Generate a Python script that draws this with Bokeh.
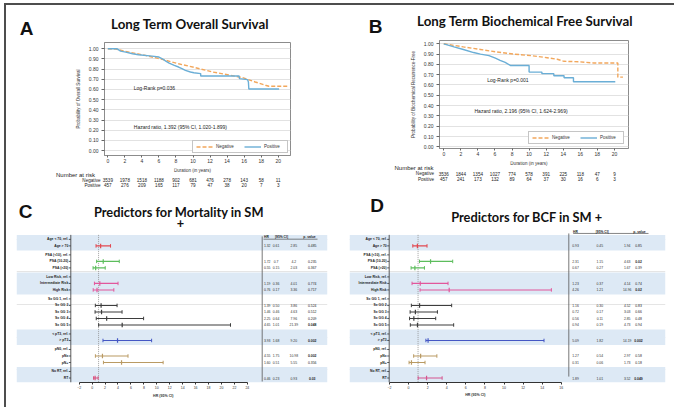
import numpy as np
from bokeh.plotting import figure
from bokeh.models import (Range1d, Legend, LegendItem, FixedTicker, NumeralTickFormatter)
from bokeh.layouts import row, column
from bokeh.embed import file_html
from bokeh.resources import INLINE
from bokeh.core.properties import value

# ------------------------------------------------------------------ data
risk_times = [0, 2, 4, 6, 8, 10, 12, 14, 16, 18, 20]
surv_ticks = [0.0, 0.1, 0.2, 0.3, 0.4, 0.5, 0.6, 0.7, 0.8, 0.9, 1.0]

# Panel A - overall survival
a_neg_t = [0, 0.9, 2.5, 4.4, 6.4, 8.3, 10.3, 12.3, 14.2, 15.8, 17.3, 18.5, 18.9, 21.1]
a_neg_s = [1.0, 0.997, 0.967, 0.935, 0.896, 0.853, 0.814, 0.772, 0.743, 0.717, 0.674, 0.642, 0.632, 0.632]
a_pos_t = [0, 1.1, 1.5, 2.1, 2.9, 3.6, 5.2, 6.0, 6.4, 6.8, 7.2, 7.8, 8.3, 8.7, 9.1, 9.7,
           10.1, 10.9, 10.9, 15.4, 15.45, 16.4, 16.5, 16.55, 20.1]
a_pos_s = [1.0, 1.0, 0.977, 0.967, 0.951, 0.941, 0.928, 0.919, 0.902, 0.879, 0.860, 0.837,
           0.821, 0.805, 0.788, 0.772, 0.765, 0.756, 0.733, 0.733, 0.707, 0.697, 0.674, 0.605, 0.605]
a_risk_neg = [3539, 1978, 1518, 1188, 902, 681, 476, 278, 143, 58, 11]
a_risk_pos = [457, 276, 209, 165, 117, 79, 47, 38, 20, 7, 3]

# Panel B - biochemical free survival
b_neg_t = [0, 2.3, 4.3, 6.25, 8.2, 10.2, 12.1, 13.3, 14.1, 16.0, 17.6, 20.4, 20.4, 21.0]
b_neg_s = [1.0, 0.97, 0.945, 0.92, 0.90, 0.885, 0.865, 0.85, 0.83, 0.825, 0.813, 0.813, 0.676, 0.676]
b_pos_t = [0, 1.2, 2.3, 3.5, 4.3, 5.3, 6.05, 6.6, 7.2, 7.8, 10.0, 10.0, 11.5, 11.5, 12.9, 12.9,
           14.1, 14.1, 15.2, 15.2, 20.1]
b_pos_s = [1.0, 0.97, 0.945, 0.915, 0.90, 0.885, 0.86, 0.84, 0.82, 0.79, 0.79, 0.725, 0.725, 0.71,
           0.71, 0.69, 0.69, 0.67, 0.67, 0.632, 0.632]
b_risk_neg = [3536, 1844, 1354, 1027, 774, 578, 391, 225, 118, 47, 9]
b_risk_pos = [457, 241, 173, 132, 89, 64, 37, 30, 16, 6, 3]

# Forest plots (C, D)
row_labels = ["Age < 70, ref.", "Age > 70",
              "PSA (<10), ref.", "PSA (10-20)", "PSA (>20)",
              "Low Risk, ref.", "Intermediate Risk", "High Risk",
              "Sx GG 1, ref.", "Sx GG 2", "Sx GG 3", "Sx GG 4", "Sx GG 5",
              "< pT3, ref.", "> pT3",
              "pN0, ref.", "pNx", "pN+",
              "No RT, ref.", "RT"]
group_sizes = [2, 3, 3, 5, 2, 3, 2]
est_labels = ["Age > 70", "PSA (10-20)", "PSA (>20)", "Intermediate Risk", "High Risk",
              "Sx GG 2", "Sx GG 3", "Sx GG 4", "Sx GG 5", "> pT3", "pNx", "pN+", "RT"]
est_groups = [0, 1, 1, 2, 2, 3, 3, 3, 3, 4, 5, 5, 6]

c_hr = [1.32, 1.72, 0.55, 1.19, 0.76, 1.39, 1.46, 2.25, 4.65, 3.93, 1.60, 4.55, 0.46]
c_lo = [0.61, 0.70, 0.15, 0.36, 0.17, 0.50, 0.46, 0.64, 1.01, 1.68, 0.51, 1.75, 0.23]
c_hi = [2.85, 4.20, 2.03, 4.01, 3.36, 3.86, 4.63, 7.96, 21.39, 9.20, 5.55, 10.98, 0.93]
c_tab_hr = ["1.32", "1.72", "0.55", "1.19", "0.76", "1.39", "1.46", "2.25", "4.65", "3.93", "4.55", "1.60", "0.46"]
c_tab_lo = ["0.61", "0.7", "0.15", "0.36", "0.17", "0.50", "0.46", "0.64", "1.01", "1.68", "1.75", "0.51", "0.23"]
c_tab_hi = ["2.85", "4.2", "2.03", "4.01", "3.36", "3.86", "4.63", "7.96", "21.39", "9.20", "10.98", "5.55", "0.93"]
c_tab_p = ["0.485", "0.235", "0.367", "0.774", "0.717", "0.524", "0.512", "0.209", "0.048", "0.002", "0.002", "0.356", "0.03"]

d_hr = [0.93, 2.31, 0.67, 1.23, 4.26, 1.16, 0.72, 0.56, 0.94, 2.05, 1.27, 0.31, 1.89]
d_lo = [0.45, 1.15, 0.27, 0.37, 1.21, 0.30, 0.17, 0.11, 0.19, 1.82, 0.54, 0.06, 1.01]
d_hi = [1.94, 4.63, 1.67, 4.14, 14.96, 4.52, 3.03, 2.85, 4.73, 14.19, 2.97, 1.73, 3.52]
d_tab_hr = ["0.93", "2.31", "0.67", "1.23", "4.26", "1.16", "0.72", "0.56", "0.94", "5.09", "1.27", "0.31", "1.89"]
d_tab_lo = ["0.45", "1.15", "0.27", "0.37", "1.21", "0.30", "0.17", "0.11", "0.19", "1.82", "0.54", "0.06", "1.01"]
d_tab_hi = ["1.94", "4.63", "1.67", "4.14", "14.96", "4.52", "3.03", "2.85", "4.73", "14.19", "2.97", "1.73", "3.52"]
d_tab_p = ["0.85", "0.02", "0.39", "0.74", "0.02", "0.83", "0.66", "0.48", "0.94", "0.002", "0.58", "0.18", "0.049"]

c_group_colors = ["#e2474f", "#5cbd5c", "#e2579c", "#3d3d3d", "#4457c4", "#b99a63", "#d94f7c"]
d_group_colors = ["#e2474f", "#5cbd5c", "#e2579c", "#3d3d3d", "#4457c4", "#b99a63", "#d6558f"]

# ------------------------------------------------------------------ style
FONT = "Liberation Sans"
TFONT = "Lato"
NEG_COL = "#f2a75c"
POS_COL = "#6aaed6"
BAND = "#dde9f5"


def strip(x0, y0, w, h, xr=None):
    """A figure whose frame is the whole canvas; y in page pixels (down)."""
    p = figure(width=w, height=h, x_range=Range1d(*(xr if xr else (x0, x0 + w))),
               y_range=Range1d(y0 + h, y0), output_backend="svg", toolbar_location=None,
               x_axis_location=None, y_axis_location=None, frame_align=False,
               min_border_left=0, min_border_right=0, min_border_top=0, min_border_bottom=0)
    p.outline_line_color = None
    p.background_fill_color = "white"
    p.border_fill_color = "white"
    p.grid.visible = False
    return p


def put(p, items, size, bold=False, font=FONT, align="left", color="#222222"):
    p.text(x=[i[1] for i in items], y=[i[2] for i in items], text=[i[0] for i in items],
           text_font=value(font), text_font_size=f"{size}px",
           text_font_style="bold" if bold else "normal", text_color=color,
           text_align=align, text_baseline="middle")


def km_panel(ox, w, ys, frame, xr, yr, neg, pos, risk_neg, risk_pos, ylabel,
             letter_xy, letter, title_xy, title, notes, risk_geo, legend_margin):
    y_hdr, y_km, y_risk, y_end = ys
    fl, fr, ft, fb = frame
    hdr = strip(ox, y_hdr, w, y_km - y_hdr)
    put(hdr, [(letter, *letter_xy)], 19, bold=True, align="center", color="#111111")
    put(hdr, [(title, *title_xy)], 13.3, bold=True, font=TFONT, align="center", color="#111111")

    p = figure(width=w, height=y_risk - y_km, x_range=Range1d(*xr), y_range=Range1d(*yr),
               output_backend="svg", toolbar_location=None, frame_align=False,
               min_border_left=fl - ox, min_border_right=ox + w - fr,
               min_border_top=ft - y_km, min_border_bottom=y_risk - fb)
    p.background_fill_color = "white"
    p.border_fill_color = "white"
    p.outline_line_color = "#8c8c8c"
    p.xgrid.visible = False
    p.ygrid.ticker = FixedTicker(ticks=surv_ticks)
    p.ygrid.grid_line_color = "#e2e2e2"
    for ax in (p.xaxis[0], p.yaxis[0]):
        ax.axis_line_color = "#8c8c8c"
        ax.major_tick_line_color = "#666666"
        ax.major_tick_out = 2
        ax.major_tick_in = 0
        ax.minor_tick_out = 0
        ax.minor_tick_in = 0
        ax.major_label_text_font = FONT
        ax.major_label_text_font_size = "5px"
        ax.major_label_text_color = "#333333"
        ax.axis_label_text_font = FONT
        ax.axis_label_text_font_size = "4.5px"
        ax.axis_label_text_font_style = "normal"
        ax.axis_label_text_color = "#333333"
    p.yaxis.ticker = FixedTicker(ticks=surv_ticks)
    p.yaxis.formatter = NumeralTickFormatter(format="0.00")
    p.yaxis.major_tick_out = 3
    p.yaxis.major_label_standoff = 3
    p.yaxis.axis_label = ylabel
    p.yaxis.axis_label_standoff = 5
    p.xaxis.ticker = FixedTicker(ticks=risk_times)
    p.xaxis.major_label_standoff = 1

    rn = p.line(neg[0], neg[1], line_color=NEG_COL, line_width=1.4, line_dash="4 2")
    rp = p.line(pos[0], pos[1], line_color=POS_COL, line_width=1.4)
    leg = Legend(items=[LegendItem(label="Negative", renderers=[rn]),
                        LegendItem(label="Positive", renderers=[rp])],
                 location="bottom_right", orientation="horizontal",
                 label_text_font=FONT, label_text_font_size="4.5px", label_text_color="#333333",
                 glyph_width=17, glyph_height=5, label_height=5, label_standoff=3,
                 spacing=8, padding=3, margin=legend_margin,
                 border_line_color="#8c8c8c", border_line_width=1)
    p.add_layout(leg)
    put(p, notes, 5)

    # strip below: axis title and number-at-risk table; its x scale continues the plot's
    ppu = (fr - fl) / (xr[1] - xr[0])
    ext = (xr[0] - (fl - ox) / ppu, xr[1] + (ox + w - fr) / ppu)
    rk = strip(ox, y_risk, w, y_end - y_risk, xr=ext)
    to_x = lambda px: ext[0] + (px - ox) / ppu
    dur_y, nr_xy, lab_px, y_neg, y_pos = risk_geo
    put(rk, [("Duration (in years)", (xr[0] + xr[1]) / 2 - 0.6, dur_y)], 4.5, align="center",
        color="#333333")
    put(rk, [("Number at risk", to_x(nr_xy[0]), nr_xy[1])], 6)
    put(rk, [("Negative", to_x(lab_px), y_neg), ("Positive", to_x(lab_px), y_pos)], 4.6,
        align="right")
    put(rk, [(str(v), t, y_neg) for v, t in zip(risk_neg, risk_times)] +
        [(str(v), t, y_pos) for v, t in zip(risk_pos, risk_times)], 4.6, align="center")
    return column(hdr, p, rk)


def row_positions(sizes, gap):
    ys, y = [], 0.0
    for n in sizes:
        for _ in range(n):
            ys.append(y)
            y += 1.0
        y += gap - 1.0
    return ys


def forest_panel(ox, w, ys_page, frame, zero_px, ppu, row0_px, row_px, axis_max, hr, lo, hi,
                 tab, colors, geo, letter, letter_xy, titles):
    y_hdr, y_fp, y_foot, y_end = ys_page
    fl, fr, ft, fb = frame
    gap = 1.38
    dx = lambda px: (px - zero_px) / ppu
    dy = lambda py: (py - row0_px) / row_px

    hdr = strip(ox, y_hdr, w, y_fp - y_hdr)
    put(hdr, [(letter, *letter_xy)], 19, bold=True, align="center", color="#111111")
    for txt, xy in titles:
        put(hdr, [(txt, *xy)], 12.8, bold=True, font=TFONT, align="center", color="#111111")

    p = figure(width=w, height=y_foot - y_fp, x_range=Range1d(dx(fl), dx(fr)),
               y_range=Range1d(dy(fb), dy(ft)), output_backend="svg",
               toolbar_location=None, y_axis_location=None, frame_align=False,
               min_border_left=fl - ox, min_border_right=ox + w - fr,
               min_border_top=ft - y_fp, min_border_bottom=y_foot - fb)
    p.background_fill_color = "white"
    p.border_fill_color = "white"
    p.outline_line_color = None
    p.xgrid.visible = False

    ys = row_positions(group_sizes, gap)
    starts = np.cumsum([0] + group_sizes[:-1])
    tops, bots = [], []
    for gi, (s, n) in enumerate(zip(starts, group_sizes)):
        if gi % 2 == 0:
            tops.append(ys[s] - gap / 2)
            bots.append(ys[s + n - 1] + gap / 2)
    p.quad(left=dx(fl), right=dx(fr), top=tops, bottom=bots, fill_color=BAND, line_color=None)
    band_top = ys[0] - gap / 2
    band_bot = ys[-1] + gap / 2

    ax_x = dx(geo["axis_px"])
    p.segment(x0=[ax_x], y0=[band_top], x1=[ax_x], y1=[band_bot], line_color="#333333", line_width=0.8)
    p.segment(x0=[ax_x] * len(ys), y0=ys, x1=[dx(geo["axis_px"] - 2)] * len(ys), y1=ys,
              line_color="#333333", line_width=0.8)
    p.text(x=[dx(geo["label_px"])] * len(ys), y=ys, text=row_labels, text_font=value(FONT),
           text_font_size="3.4px", text_font_style="bold", text_color="#222222",
           text_align="right", text_baseline="middle")

    p.segment(x0=[1], y0=[band_top], x1=[1], y1=[band_bot], line_color="#8a8a8a",
              line_width=0.8, line_dash="1 1")

    ey = [ys[row_labels.index(l)] for l in est_labels]
    cols = [colors[g] for g in est_groups]
    p.segment(x0=lo, y0=ey, x1=hi, y1=ey, line_color=cols, line_width=1.1)
    p.scatter(x=lo + hi, y=ey + ey, marker="dash", angle=np.pi / 2, size=3.5,
              line_color=cols + cols, line_width=1.0)
    p.scatter(x=hr, y=ey, marker="dash", angle=np.pi / 2, size=4.5, line_color=cols, line_width=1.2)

    ax = p.xaxis[0]
    ax.ticker = FixedTicker(ticks=list(range(-2, axis_max + 1, 2)))
    ax.bounds = (-2, axis_max)
    ax.axis_line_color = "#333333"
    ax.major_tick_line_color = "#333333"
    ax.major_tick_out = 2
    ax.major_tick_in = 0
    ax.minor_tick_out = 0
    ax.minor_tick_in = 0
    ax.major_label_standoff = 1
    ax.major_label_text_font = FONT
    ax.major_label_text_font_size = "3.5px"
    ax.major_label_text_color = "#333333"

    hy = dy(geo["head_py"])
    p.text(x=[dx(v) for v in geo["head_px"]], y=[hy] * 3, text=["HR", "[95% CI]", "p. value"],
           text_font=value(FONT), text_font_size="3.3px", text_font_style="bold",
           text_color="#222222", text_align="center", text_baseline="middle")
    ul = geo["underline"]
    p.segment(x0=[dx(ul[0])], y0=[dy(ul[2])], x1=[dx(ul[1])], y1=[dy(ul[2])],
              line_color="#333333", line_width=0.6)
    sp = geo["sep"]
    p.segment(x0=[dx(sp[0])], y0=[dy(sp[1])], x1=[dx(sp[0])], y1=[dy(sp[2])],
              line_color="#555555", line_width=0.8)
    t_hr, t_lo, t_hi, t_p = tab
    cx = geo["cols_px"]
    for ci, colv in enumerate([t_hr, t_lo, t_hi]):
        p.text(x=[dx(cx[ci])] * len(ey), y=ey, text=colv, text_font=value(FONT),
               text_font_size="3.4px", text_color="#333333", text_align="center",
               text_baseline="middle")
    sig = [float(v) < 0.05 for v in t_p]
    for flag, style in ((True, "bold"), (False, "normal")):
        yy = [y for y, s in zip(ey, sig) if s == flag]
        tt = [t for t, s in zip(t_p, sig) if s == flag]
        p.text(x=[dx(cx[3])] * len(yy), y=yy, text=tt, text_font=value(FONT),
               text_font_size="3.4px", text_font_style=style, text_color="#222222",
               text_align="center", text_baseline="middle")

    foot = strip(ox, y_foot, w, y_end - y_foot)
    put(foot, [("HR (95% CI)", zero_px + ppu * (axis_max - 2) / 2, geo["axlab_py"])], 3.6,
        bold=True, align="center", color="#333333")
    return column(hdr, p, foot)


pa = km_panel(6, 331, (5, 38, 168, 195), (104, 290, 42, 155), (-0.39, 21.44), (-0.049, 1.062),
              (a_neg_t, a_neg_s), (a_pos_t, a_pos_s), a_risk_neg, a_risk_pos,
              "Probability of Overall Survival", (26, 28), "A",
              (189.5, 23), "Long Term Overall Survival",
              [("Log-Rank p=0.036", 3.05, 0.615),
               ("Hazard ratio, 1.392 (95% CI, 1.020-1.899)", 3.05, 0.234)],
              (170.4, (55.5, 174), 100, 179.5, 184.5), 2)

pb = km_panel(337, 337, (5, 37, 161, 195), (439, 628, 40, 148), (-0.50, 21.65), (-0.0165, 1.032),
              (b_neg_t, b_neg_s), (b_pos_t, b_pos_s), b_risk_neg, b_risk_pos,
              "Probability of Biochemical Recurrence-Free", (375, 26), "B",
              (524.5, 20.5), "Long Term Biochemical Free Survival",
              [("Log-Rank p=0.001", 5.1, 0.647),
               ("Hazard ratio, 2.196 (95% CI, 1.624-2.969)", 3.6, 0.346)],
              (163.4, (394, 167), 433.5, 173, 178.5), 4)

pc = forest_panel(6, 331, (195, 229, 391, 407), (16, 327, 229, 384), 91.6, 6.47, 239, 6.6, 24,
                  c_hr, c_lo, c_hi, (c_tab_hr, c_tab_lo, c_tab_hi, c_tab_p), c_group_colors,
                  dict(axis_px=70.3, label_px=67.8, axlab_py=395.5, head_py=236.7,
                       head_px=[266, 281, 309], underline=(263, 317, 238.8),
                       sep=(261.7, 236, 383), cols_px=[266.7, 275.5, 293.3, 311.7]),
                  "C", (25, 211),
                  [("Predictors for Mortality in SM", (178.5, 211.5)), ("+", (180, 222))])

pd_ = forest_panel(337, 337, (195, 229, 391, 407), (349, 665, 229, 384), 408, 9.55, 239, 6.6, 16,
                   d_hr, d_lo, d_hi, (d_tab_hr, d_tab_lo, d_tab_hi, d_tab_p), d_group_colors,
                   dict(axis_px=388.7, label_px=386.2, axlab_py=394, head_py=231.7,
                        head_px=[575, 601.7, 639], underline=(572.7, 648, 233),
                        sep=(568.3, 233, 378), cols_px=[575, 599.3, 626.7, 638]),
                   "D", (376.5, 205),
                   [("Predictors for BCF in SM +", (526.5, 216))])

layout = column(row(pa, pb), row(pc, pd_), margin=(3, 0, 0, 4),
                styles={"border-top": "2px solid #4d4d4d", "border-left": "2px solid #4d4d4d"})

open("out.html", "w").write(file_html(layout, INLINE))
